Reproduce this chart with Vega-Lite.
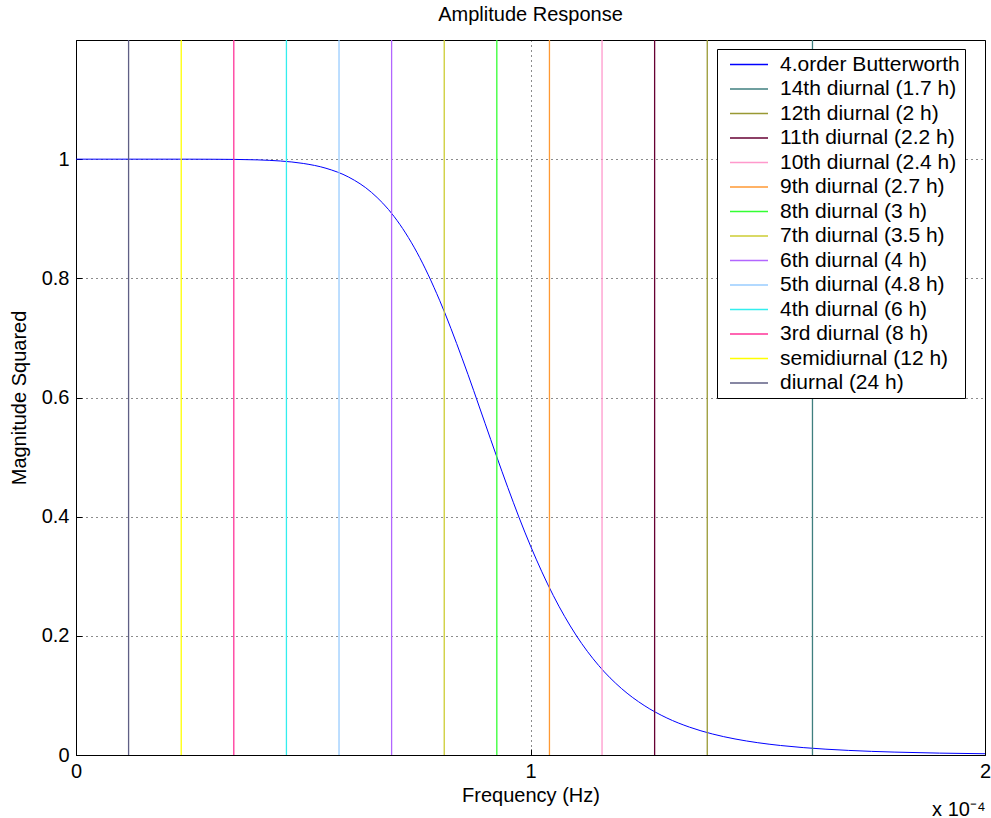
{
  "$schema": "https://vega.github.io/schema/vega-lite/v6.json",
  "width": 909,
  "height": 715,
  "autosize": {"type": "none"},
  "padding": {"left": 76, "top": 40, "right": 6, "bottom": 63},
  "background": "white",
  "title": {"text": "Amplitude Response", "fontSize": 20, "font": "Liberation Sans", "fontWeight": "normal", "color": "black", "offset": 14},
  "config": {
    "font": "Liberation Sans",
    "view": {"stroke": "black", "strokeWidth": 1},
    "axis": {
      "labelFont": "Liberation Sans", "labelFontSize": 20, "labelColor": "black",
      "titleFont": "Liberation Sans", "titleFontSize": 20, "titleColor": "black", "titleFontWeight": "normal",
      "domainColor": "black", "tickColor": "black",
      "gridColor": "black", "gridDash": [1, 4], "gridOpacity": 0.9, "gridWidth": 1
    },
    "legend": {
      "orient": "none", "legendX": 641, "legendY": 9,
      "strokeColor": "black", "fillColor": "white", "padding": 5,
      "symbolType": "M-2,0L2,0", "symbolSize": 361, "symbolStrokeWidth": 1.5,
      "labelFont": "Liberation Sans", "labelFontSize": 21, "labelColor": "black",
      "labelOffset": 20.5, "rowPadding": 2.5, "symbolOffset": 16.5, "labelLimit": 400
    }
  },
  "datasets": {
    "curve": [
      {"f": 0, "m": 1, "series": "4.order Butterworth"},
      {"f": 0.1, "m": 1, "series": "4.order Butterworth"},
      {"f": 0.2, "m": 1, "series": "4.order Butterworth"},
      {"f": 0.25, "m": 0.99998, "series": "4.order Butterworth"},
      {"f": 0.3, "m": 0.99988, "series": "4.order Butterworth"},
      {"f": 0.35, "m": 0.99958, "series": "4.order Butterworth"},
      {"f": 0.4, "m": 0.99879, "series": "4.order Butterworth"},
      {"f": 0.45, "m": 0.9969, "series": "4.order Butterworth"},
      {"f": 0.5, "m": 0.99282, "series": "4.order Butterworth"},
      {"f": 0.55, "m": 0.98474, "series": "4.order Butterworth"},
      {"f": 0.6, "m": 0.96988, "series": "4.order Butterworth"},
      {"f": 0.65, "m": 0.94434, "series": "4.order Butterworth"},
      {"f": 0.7, "m": 0.90367, "series": "4.order Butterworth"},
      {"f": 0.75, "m": 0.84375, "series": "4.order Butterworth"},
      {"f": 0.8, "m": 0.76318, "series": "4.order Butterworth"},
      {"f": 0.85, "m": 0.66487, "series": "4.order Butterworth"},
      {"f": 0.9, "m": 0.55672, "series": "4.order Butterworth"},
      {"f": 0.925, "m": 0.50216, "series": "4.order Butterworth"},
      {"f": 0.95, "m": 0.44901, "series": "4.order Butterworth"},
      {"f": 1.0, "m": 0.35092, "series": "4.order Butterworth"},
      {"f": 1.05, "m": 0.26792, "series": "4.order Butterworth"},
      {"f": 1.1, "m": 0.20141, "series": "4.order Butterworth"},
      {"f": 1.15, "m": 0.15019, "series": "4.order Butterworth"},
      {"f": 1.2, "m": 0.1117, "series": "4.order Butterworth"},
      {"f": 1.25, "m": 0.08316, "series": "4.order Butterworth"},
      {"f": 1.3, "m": 0.06215, "series": "4.order Butterworth"},
      {"f": 1.35, "m": 0.04671, "series": "4.order Butterworth"},
      {"f": 1.4, "m": 0.03534, "series": "4.order Butterworth"},
      {"f": 1.45, "m": 0.02692, "series": "4.order Butterworth"},
      {"f": 1.5, "m": 0.02066, "series": "4.order Butterworth"},
      {"f": 1.55, "m": 0.01597, "series": "4.order Butterworth"},
      {"f": 1.6, "m": 0.01243, "series": "4.order Butterworth"},
      {"f": 1.7, "m": 0.00769, "series": "4.order Butterworth"},
      {"f": 1.8, "m": 0.00488, "series": "4.order Butterworth"},
      {"f": 1.9, "m": 0.00317, "series": "4.order Butterworth"},
      {"f": 2.0, "m": 0.00211, "series": "4.order Butterworth"}
    ],
    "harm": [
      {"f": 1.6204, "series": "14th diurnal (1.7 h)"},
      {"f": 1.3889, "series": "12th diurnal (2 h)"},
      {"f": 1.2731, "series": "11th diurnal (2.2 h)"},
      {"f": 1.1574, "series": "10th diurnal (2.4 h)"},
      {"f": 1.0417, "series": "9th diurnal (2.7 h)"},
      {"f": 0.9259, "series": "8th diurnal (3 h)"},
      {"f": 0.8102, "series": "7th diurnal (3.5 h)"},
      {"f": 0.6944, "series": "6th diurnal (4 h)"},
      {"f": 0.5787, "series": "5th diurnal (4.8 h)"},
      {"f": 0.463, "series": "4th diurnal (6 h)"},
      {"f": 0.3472, "series": "3rd diurnal (8 h)"},
      {"f": 0.2315, "series": "semidiurnal (12 h)"},
      {"f": 0.1157, "series": "diurnal (24 h)"}
    ]
  },
  "layer": [
    {
      "data": {"name": "curve"},
      "mark": {"type": "line", "strokeWidth": 1, "interpolate": "monotone"},
      "encoding": {
        "x": {"field": "f", "type": "quantitative", "scale": {"domain": [0, 2], "nice": false, "zero": false},
              "axis": {"orient": "bottom", "values": [0, 1, 2], "labelExpr": "'' + datum.value", "title": "Frequency (Hz)", "grid": true, "tickSize": -6, "labelPadding": 12, "titlePadding": 4, "labelFlush": false}},
        "y": {"field": "m", "type": "quantitative", "scale": {"domain": [0, 1.2], "nice": false},
              "axis": {"values": [0, 0.2, 0.4, 0.6, 0.8, 1], "labelExpr": "'' + datum.value", "title": "Magnitude Squared", "grid": true, "tickSize": -6, "labelPadding": 13, "titlePadding": 12, "labelFlush": false}},
        "color": {"field": "series", "type": "nominal", "title": null,
          "scale": {
            "domain": ["4.order Butterworth", "14th diurnal (1.7 h)", "12th diurnal (2 h)", "11th diurnal (2.2 h)", "10th diurnal (2.4 h)", "9th diurnal (2.7 h)", "8th diurnal (3 h)", "7th diurnal (3.5 h)", "6th diurnal (4 h)", "5th diurnal (4.8 h)", "4th diurnal (6 h)", "3rd diurnal (8 h)", "semidiurnal (12 h)", "diurnal (24 h)"],
            "range": ["#0000ff", "#3f7f7f", "#999933", "#660033", "#ff99cc", "#ff9933", "#33ff33", "#cccc33", "#b266ff", "#99ccff", "#33eeee", "#ff3399", "#ffff00", "#5f5f85"]
          }}
      }
    },
    {
      "data": {"name": "harm"},
      "mark": {"type": "rule", "strokeWidth": 1.3},
      "encoding": {
        "x": {"field": "f", "type": "quantitative",
              "axis": {"orient": "bottom", "labels": false, "ticks": false, "domain": false, "grid": false, "title": "x 10⁻⁴", "titleAnchor": "end", "titleAlign": "right", "titlePadding": 44}},
        "color": {"field": "series", "type": "nominal", "title": null}
      }
    }
  ],
  "resolve": {"axis": {"x": "independent"}}
}
